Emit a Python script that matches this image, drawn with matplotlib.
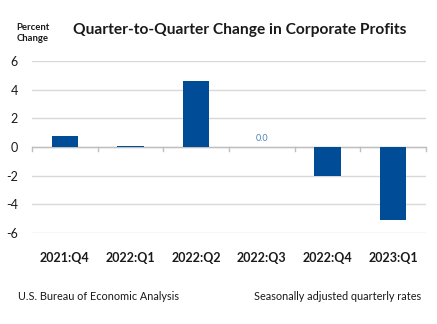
import matplotlib.pyplot as plt
import numpy as np

plt.rcParams['font.family'] = ['Lato', 'DejaVu Sans']

quarters = ['2021:Q4', '2022:Q1', '2022:Q2', '2022:Q3', '2022:Q4', '2023:Q1']
pct_change = [0.8, 0.1, 4.6, 0.0, -2.0, -5.1]
yticks = [-6, -4, -2, 0, 2, 4, 6]

bar_color = '#004c97'

fig = plt.figure(figsize=(4.37, 3.24), dpi=100)
ax = fig.add_axes([32/437, 1 - 233/324, 394/437, 172/324])

x = np.arange(len(quarters))
ax.bar(x, pct_change, width=0.4, color=bar_color, zorder=3)

# zero-valued bar gets its value written above the axis
for xi, v in zip(x, pct_change):
    if v == 0:
        ax.text(xi, 0.25, f'{v:.1f}', ha='center', va='bottom',
                fontsize=6.5, color='#4f81bd')

ax.set_xlim(-0.5, len(quarters) - 0.5)
ax.set_ylim(-6, 6)
ax.set_yticks(yticks)
ax.set_yticklabels([str(t) for t in yticks], fontsize=9, color='#1a1a1a')
ax.yaxis.grid(True, color='#d9d9d9', linewidth=1, zorder=0)
ax.tick_params(axis='y', length=0, pad=10)
for s in ax.spines.values():
    s.set_visible(False)

# zero line with category-boundary ticks
ax.axhline(0, color='#bfbfbf', linewidth=1, zorder=2)
for b in np.arange(-0.5, len(quarters)):
    ax.plot([b, b], [0, -0.25], color='#bfbfbf', linewidth=1, zorder=2, clip_on=False)

ax.set_xticks(x)
ax.set_xticklabels(quarters, fontsize=9, fontweight='bold', color='#1a1a1a')
ax.tick_params(axis='x', length=0, pad=14)

fig.text(240/437, 1 - 30/324, 'Quarter-to-Quarter Change in Corporate Profits',
         ha='center', va='center', fontsize=11.2, fontweight='bold', color='#1a1a1a')
fig.text(33/437, 1 - 33/324, 'Percent\nChange', ha='center', va='center',
         fontsize=6.8, fontweight='bold', color='#1a1a1a', linespacing=1.4)

fig.text(18/437, 1 - 297/324, 'U.S. Bureau of Economic Analysis',
         ha='left', va='center', fontsize=7.8, color='#1a1a1a')
fig.text(421/437, 1 - 297/324, 'Seasonally adjusted quarterly rates',
         ha='right', va='center', fontsize=7.8, color='#1a1a1a')

fig.savefig('out.png', dpi=100)
